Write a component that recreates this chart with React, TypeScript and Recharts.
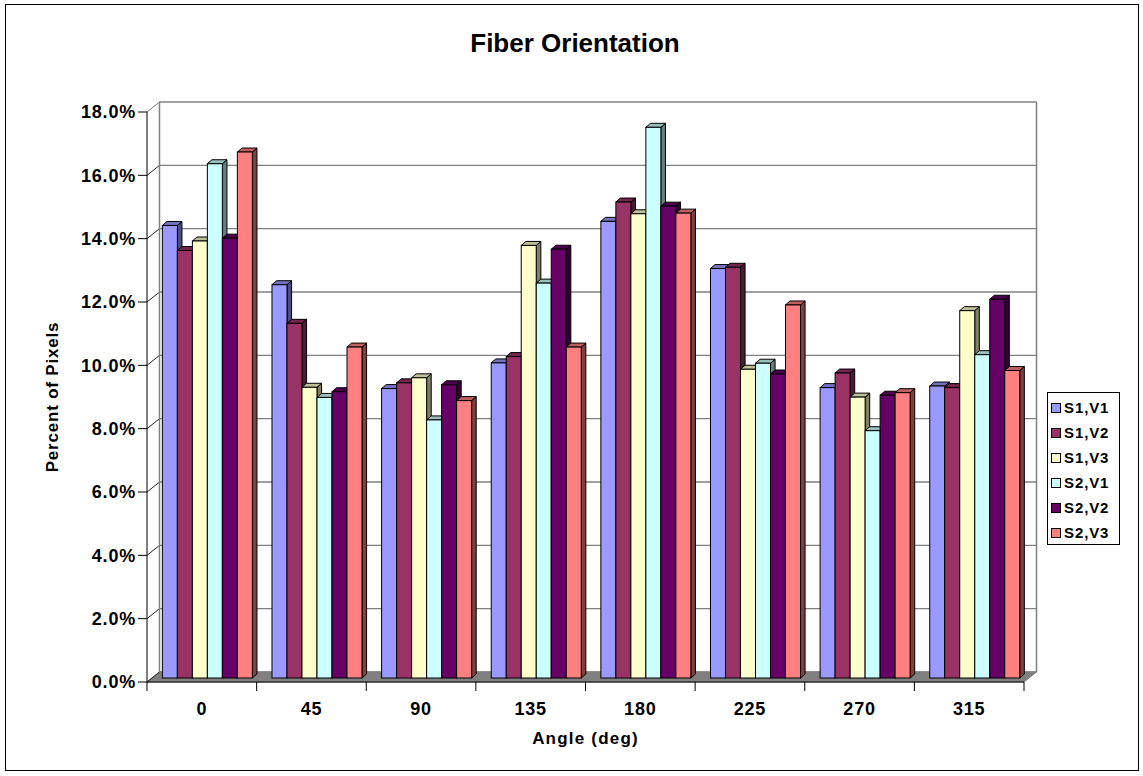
import React from 'react';
import { BarChart, Bar, XAxis, YAxis, CartesianGrid, Legend } from 'recharts';

// angle bins and the pixel share (%) measured in each bin
const angles = ['0', '45', '90', '135', '180', '225', '270', '315'];
const s1v1 = [14.29, 12.42, 9.14, 9.95, 14.42, 12.93, 9.17, 9.22];
const s1v2 = [13.5, 11.2, 9.32, 10.15, 15.03, 12.97, 9.63, 9.17];
const s1v3 = [13.8, 9.18, 9.48, 13.66, 14.66, 9.75, 8.87, 11.6];
const s2v1 = [16.24, 8.86, 8.15, 12.47, 17.39, 9.94, 7.81, 10.21];
const s2v2 = [13.89, 9.04, 9.26, 13.54, 14.9, 9.6, 8.93, 11.96];
const s2v3 = [16.61, 10.45, 8.76, 10.45, 14.68, 11.78, 9.01, 9.71];
const yTicks = [0, 2, 4, 6, 8, 10, 12, 14, 16, 18];

const seriesKeys = ['s1v1', 's1v2', 's1v3', 's2v1', 's2v2', 's2v3'];
const seriesNames = ['S1,V1', 'S1,V2', 'S1,V3', 'S2,V1', 'S2,V2', 'S2,V3'];
const seriesColors = ['#9999FF', '#993366', '#FFFFCC', '#CCFFFF', '#660066', '#FF8080'];

const data = angles.map((angle, i) => ({
  angle,
  s1v1: s1v1[i],
  s1v2: s1v2[i],
  s1v3: s1v3[i],
  s2v1: s2v1[i],
  s2v2: s2v2[i],
  s2v3: s2v3[i],
}));

const FONT = '"Liberation Sans", Arial, Helvetica, sans-serif';

// plot geometry (front plane) and the 3D offsets
const PLOT_TOP = 112;
const PLOT_BOTTOM = 682;
const WALL_DX = 12.5; // back wall offset
const WALL_DY = 10;
const COL_SHIFT_X = 4.4; // columns sit a little behind the front plane
const COL_SHIFT_Y = -4;
const COL_DX = 4.6; // column depth
const COL_DY = 4;

const shade = (hex: string, k: number) => {
  const n = parseInt(hex.slice(1), 16);
  const r = Math.round(((n >> 16) & 255) * k);
  const g = Math.round(((n >> 8) & 255) * k);
  const b = Math.round((n & 255) * k);
  return `rgb(${r},${g},${b})`;
};

const Column3D = (props: any) => {
  const { x, y, width, height, fill } = props;
  if (!height || height <= 0) return null;
  const fx = x + COL_SHIFT_X;
  const fy = y + COL_SHIFT_Y;
  const w = width;
  const h = height;
  const side = `${fx + w},${fy} ${fx + w + COL_DX},${fy - COL_DY} ${fx + w + COL_DX},${fy + h - COL_DY} ${fx + w},${fy + h}`;
  const top = `${fx},${fy} ${fx + COL_DX},${fy - COL_DY} ${fx + w + COL_DX},${fy - COL_DY} ${fx + w},${fy}`;
  return (
    <g>
      <polygon points={side} fill={shade(fill, 0.5)} stroke="#000" strokeWidth={1} strokeLinejoin="round" />
      <polygon points={top} fill={shade(fill, 0.75)} stroke="#000" strokeWidth={1} strokeLinejoin="round" />
      <rect x={fx} y={fy} width={w} height={h} fill={fill} stroke="#000" strokeWidth={1} />
    </g>
  );
};

// back wall gridline, left wall diagonal, floor and wall edges
const WallLine = (props: any) => {
  const { x1, x2, y1 } = props;
  const isFloor = Math.abs(y1 - PLOT_BOTTOM) < 1;
  const isTop = Math.abs(y1 - PLOT_TOP) < 1;
  return (
    <g key={props.key}>
      {isFloor && (
        <polygon
          points={`${x1},${y1} ${x2},${y1} ${x2 + WALL_DX},${y1 - WALL_DY} ${x1 + WALL_DX},${y1 - WALL_DY}`}
          fill="#808080"
          stroke="#808080"
        />
      )}
      {isTop && (
        <>
          <line x1={x1 + WALL_DX} y1={y1 - WALL_DY} x2={x1 + WALL_DX} y2={PLOT_BOTTOM - WALL_DY} stroke="#808080" strokeWidth={1.5} />
          <line x1={x2 + WALL_DX} y1={y1 - WALL_DY} x2={x2 + WALL_DX} y2={PLOT_BOTTOM - WALL_DY} stroke="#808080" strokeWidth={1.5} />
        </>
      )}
      <line x1={x1 + WALL_DX} y1={y1 - WALL_DY} x2={x2 + WALL_DX} y2={y1 - WALL_DY} stroke="#808080" strokeWidth={isTop ? 1.6 : 1.3} />
      <line x1={x1} y1={y1} x2={x1 + WALL_DX} y2={y1 - WALL_DY} stroke={isTop ? '#808080' : '#222'} strokeWidth={1} />
    </g>
  );
};

// tick marks between categories under the x axis
const CategoryTick = (props: any) => {
  const { x1, y2 } = props;
  return <line key={props.key} x1={x1} y1={y2} x2={x1} y2={y2 + 9} stroke="#000" strokeWidth={1} />;
};

const LegendBox = (props: any) => {
  const { payload } = props;
  return (
    <div
      style={{
        boxSizing: 'border-box',
        width: 73,
        height: 153,
        border: '1px solid #000',
        background: '#fff',
        paddingTop: 2,
        paddingLeft: 3,
        fontFamily: FONT,
      }}
    >
      {(payload || []).map((entry: any) => (
        <div key={entry.value} style={{ height: 25, display: 'flex', alignItems: 'center' }}>
          <span
            style={{
              display: 'inline-block',
              boxSizing: 'border-box',
              width: 10,
              height: 10,
              background: entry.color,
              border: '1px solid #000',
              marginRight: 3,
            }}
          />
          <span style={{ fontSize: 15, fontWeight: 'bold', letterSpacing: 0.9, color: '#000' }}>{entry.value}</span>
        </div>
      ))}
    </div>
  );
};

const YTitle = (props: any) => {
  const { viewBox } = props;
  const cy = viewBox.y + viewBox.height / 2;
  return (
    <text
      x={52}
      y={cy}
      transform={`rotate(-90, 52, ${cy})`}
      textAnchor="middle"
      dominantBaseline="central"
      fontFamily={FONT}
      fontSize={17}
      fontWeight="bold"
      letterSpacing={0.8}
      fill="#000"
    >
      Percent of Pixels
    </text>
  );
};

const XTitle = (props: any) => {
  const { viewBox } = props;
  const cx = viewBox.x + viewBox.width / 2;
  return (
    <text x={cx} y={744} textAnchor="middle" fontFamily={FONT} fontSize={17} fontWeight="bold" letterSpacing={1.2} fill="#000">
      Angle (deg)
    </text>
  );
};

const App: React.FC = () => {
  return (
    <div style={{ position: 'absolute', left: 0, top: 0, width: 1143, height: 776, background: '#fff' }}>
      <div
        style={{
          position: 'absolute',
          left: 5,
          top: 4,
          width: 1134,
          height: 767,
          boxSizing: 'border-box',
          border: '1.5px solid #000',
        }}
      />
      <div
        style={{
          position: 'absolute',
          left: 10,
          top: 30,
          width: 1130,
          textAlign: 'center',
          fontFamily: FONT,
          fontWeight: 'bold',
          fontSize: 26,
          lineHeight: '26px',
          color: '#000',
        }}
      >
        Fiber Orientation
      </div>
      <BarChart
        width={1143}
        height={776}
        data={data}
        margin={{ top: PLOT_TOP, right: 119, bottom: 64, left: 67 }}
        barCategoryGap="10%"
        barGap={0}
        style={{ position: 'absolute', left: 0, top: 0 }}
      >
        <CartesianGrid
          horizontal={WallLine}
          vertical={CategoryTick}
          verticalCoordinatesGenerator={({ offset }: any) =>
            Array.from({ length: angles.length + 1 }, (_, i) => offset.left + (i * offset.width) / angles.length)
          }
        />
        <XAxis
          dataKey="angle"
          height={30}
          axisLine={{ stroke: '#000', strokeWidth: 1 }}
          tickLine={false}
          tickSize={9}
          tickMargin={11}
          tick={{ fontFamily: FONT, fontSize: 18, fontWeight: 'bold', fill: '#000', letterSpacing: 0.8 }}
          label={<XTitle />}
        />
        <YAxis
          width={80}
          domain={[0, 18]}
          ticks={yTicks}
          interval={0}
          allowDataOverflow
          axisLine={{ stroke: '#000', strokeWidth: 1 }}
          tickLine={{ stroke: '#000', strokeWidth: 1 }}
          tickSize={9}
          tickMargin={2}
          tickFormatter={(v: number) => `${v.toFixed(1)}%`}
          tick={{ fontFamily: FONT, fontSize: 18, fontWeight: 'bold', fill: '#000', letterSpacing: 0.8 }}
          label={<YTitle />}
        />
        <Legend
          layout="horizontal"
          verticalAlign="middle"
          align="center"
          wrapperStyle={{ left: 1047, top: 392, width: 73 }}
          content={<LegendBox />}
        />
        {seriesKeys.map((key, i) => (
          <Bar
            key={key}
            dataKey={key}
            name={seriesNames[i]}
            fill={seriesColors[i]}
            shape={<Column3D />}
            isAnimationActive={false}
          />
        ))}
      </BarChart>
    </div>
  );
};

export default App;
